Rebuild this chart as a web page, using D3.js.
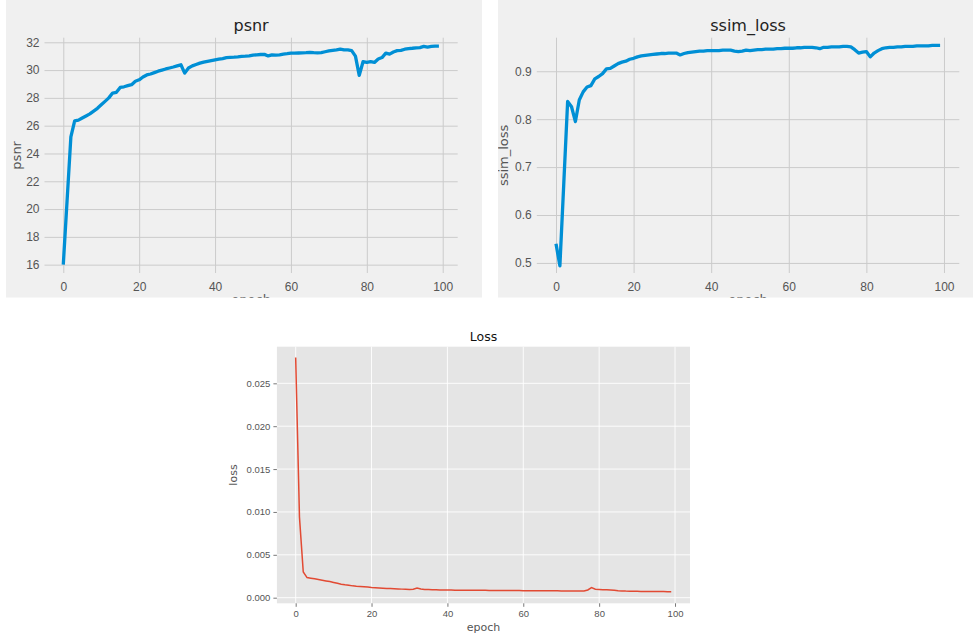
<!DOCTYPE html>
<html>
<head>
<meta charset="utf-8">
<script src="https://cdn.jsdelivr.net/npm/d3@7"></script>
<style>
  body { margin: 0; background: #fff; }
  svg { display: block; font-family: "DejaVu Sans", sans-serif; }
</style>
</head>
<body>
<svg id="chart" width="973" height="642"></svg>
<script>
// epochs 0..99
const epochs = d3.range(0, 100);

const psnr = [
  16.0, 20.6, 25.2, 26.35, 26.4, 26.55, 26.7, 26.85, 27.05, 27.25,
  27.5, 27.75, 28.0, 28.35, 28.4, 28.75, 28.8, 28.88, 28.95, 29.2,
  29.3, 29.5, 29.65, 29.72, 29.82, 29.92, 30.0, 30.08, 30.15, 30.22,
  30.3, 30.38, 29.78, 30.15, 30.3, 30.4, 30.5, 30.57, 30.63, 30.68,
  30.73, 30.78, 30.83, 30.9, 30.92, 30.93, 30.95, 30.98, 31.0, 31.03,
  31.08, 31.1, 31.12, 31.13, 31.02, 31.1, 31.08, 31.1, 31.15, 31.18,
  31.22, 31.22, 31.23, 31.24, 31.25, 31.27, 31.25, 31.24, 31.26, 31.32,
  31.38, 31.42, 31.45, 31.5, 31.45, 31.45, 31.4, 31.0, 29.62, 30.6,
  30.55, 30.6, 30.55, 30.8, 30.9, 31.22, 31.15, 31.3, 31.4, 31.42,
  31.5, 31.55, 31.57, 31.6, 31.62, 31.7, 31.65, 31.7, 31.72, 31.72
];

const ssim = [
  0.540, 0.494, 0.665, 0.837, 0.826, 0.795, 0.840, 0.857, 0.867, 0.870,
  0.884, 0.889, 0.895, 0.905, 0.906, 0.911, 0.916, 0.919, 0.921, 0.925,
  0.927, 0.930, 0.932, 0.933, 0.934, 0.935, 0.936, 0.937, 0.937, 0.938,
  0.938, 0.938, 0.934, 0.937, 0.939, 0.940, 0.941, 0.942, 0.942, 0.943,
  0.943, 0.943, 0.943, 0.944, 0.944, 0.944, 0.942, 0.941, 0.942, 0.944,
  0.943, 0.944, 0.945, 0.945, 0.946, 0.946, 0.946, 0.947, 0.947, 0.948,
  0.948, 0.948, 0.949, 0.949, 0.950, 0.950, 0.950, 0.949, 0.947, 0.950,
  0.950, 0.951, 0.951, 0.951, 0.952, 0.952, 0.951, 0.945, 0.938, 0.940,
  0.941, 0.930, 0.938, 0.943, 0.947, 0.949, 0.950, 0.950, 0.951, 0.951,
  0.952, 0.952, 0.952, 0.953, 0.953, 0.953, 0.953, 0.954, 0.954, 0.954
];

const loss = [
  0.0280, 0.0094, 0.0030, 0.00235, 0.00228, 0.00220, 0.00212, 0.00204, 0.00196, 0.00188,
  0.00178, 0.00168, 0.00158, 0.00150, 0.00146, 0.00138, 0.00134, 0.00131, 0.00128, 0.00124,
  0.00120, 0.00117, 0.00114, 0.00111, 0.00108, 0.00106, 0.00104, 0.00102, 0.00100, 0.00099,
  0.00097, 0.00098, 0.00112, 0.00102, 0.00097, 0.00095, 0.00093, 0.00092, 0.00091, 0.00090,
  0.00089, 0.00089, 0.00088, 0.00088, 0.00087, 0.00087, 0.00087, 0.00086, 0.00086, 0.00086,
  0.00086, 0.00085, 0.00085, 0.00085, 0.00085, 0.00084, 0.00084, 0.00084, 0.00083, 0.00083,
  0.00082, 0.00082, 0.00082, 0.00081, 0.00081, 0.00081, 0.00080, 0.00080, 0.00080, 0.00080,
  0.00079, 0.00079, 0.00079, 0.00079, 0.00078, 0.00078, 0.00078, 0.00090, 0.00117, 0.00098,
  0.00096, 0.00094, 0.00093, 0.00090, 0.00086, 0.00082, 0.00079, 0.00077, 0.00076, 0.00075,
  0.00074, 0.00073, 0.00073, 0.00072, 0.00072, 0.00071, 0.00071, 0.00071, 0.00070, 0.00070
];

const xTicks = [0, 20, 40, 60, 80, 100];
const psnrTicks = [16, 18, 20, 22, 24, 26, 28, 30, 32];
const ssimTicks = [0.5, 0.6, 0.7, 0.8, 0.9];
const lossTicks = [0, 0.005, 0.010, 0.015, 0.020, 0.025];

const svg = d3.select('#chart');

// fivethirtyeight-style panel (top row)
function drawPanel(opts) {
  const { id, panel, xRange, yRange, yDomain, yTicks, yFmt, values, title, ylabel } = opts;
  const clipId = 'clip-' + id;
  svg.append('clipPath').attr('id', clipId)
    .append('rect')
    .attr('x', panel[0]).attr('y', panel[1])
    .attr('width', panel[2] - panel[0]).attr('height', panel[3] - panel[1]);

  const g = svg.append('g').attr('clip-path', `url(#${clipId})`);
  g.append('rect')
    .attr('x', panel[0]).attr('y', panel[1])
    .attr('width', panel[2] - panel[0]).attr('height', panel[3] - panel[1])
    .attr('fill', '#f0f0f0');

  const x = d3.scaleLinear().domain([-4.95, 103.95]).range(xRange);
  const y = d3.scaleLinear().domain(yDomain).range(yRange);

  // grid
  const xAxis = g.append('g')
    .attr('transform', `translate(0,${yRange[0]})`)
    .call(d3.axisBottom(x).tickValues(xTicks).tickSize(-(yRange[0] - yRange[1])).tickPadding(7));
  const yAxis = g.append('g')
    .attr('transform', `translate(${xRange[0]},0)`)
    .call(d3.axisLeft(y).tickValues(yTicks).tickFormat(yFmt).tickSize(-(xRange[1] - xRange[0])).tickPadding(5));
  [xAxis, yAxis].forEach(a => {
    a.select('.domain').remove();
    a.selectAll('.tick line').attr('stroke', '#cbcbcb').attr('stroke-width', 1);
    a.selectAll('.tick text').attr('fill', '#555').style('font-size', '12px');
  });
  xAxis.selectAll('.tick text').attr('dy', '0.9em');

  const line = d3.line().x((d, i) => x(epochs[i])).y(d => y(d));
  g.append('path')
    .datum(values)
    .attr('fill', 'none')
    .attr('stroke', '#008fd5')
    .attr('stroke-width', 3.3)
    .attr('stroke-linejoin', 'round')
    .attr('d', line);

  const cx = (xRange[0] + xRange[1]) / 2;
  g.append('text')
    .attr('x', cx).attr('y', 31)
    .attr('text-anchor', 'middle')
    .attr('fill', '#222')
    .style('font-size', '16px')
    .text(title);

  g.append('text')
    .attr('x', cx).attr('y', 304)
    .attr('text-anchor', 'middle')
    .attr('fill', '#555')
    .style('font-size', '13px')
    .text('epoch');

  g.append('text')
    .attr('transform', `translate(${opts.ylabelX},${(yRange[0] + yRange[1]) / 2}) rotate(-90)`)
    .attr('text-anchor', 'middle')
    .attr('fill', '#555')
    .style('font-size', '13px')
    .text(ylabel);
}

drawPanel({
  id: 'psnr',
  panel: [6, 0, 482, 297.7],
  xRange: [44.5, 457.7],
  yRange: [273, 37.7],
  yDomain: [15.4, 32.33],
  yTicks: psnrTicks,
  yFmt: d3.format('d'),
  values: psnr,
  title: 'psnr',
  ylabel: 'psnr',
  ylabelX: 21
});

drawPanel({
  id: 'ssim',
  panel: [498, 0, 973, 297.7],
  xRange: [536.8, 959.3],
  yRange: [273, 37.7],
  yDomain: [0.479, 0.970],
  yTicks: ssimTicks,
  yFmt: d3.format('.1f'),
  values: ssim,
  title: 'ssim_loss',
  ylabel: 'ssim_loss',
  ylabelX: 508
});

// ggplot-style Loss chart (bottom)
(function drawLoss() {
  const xRange = [276.9, 690];
  const yRange = [603.3, 346.7];
  const x = d3.scaleLinear().domain([-4.95, 103.95]).range(xRange);
  const y = d3.scaleLinear().domain([-0.000653, 0.02927]).range(yRange);
  const g = svg.append('g');

  g.append('rect')
    .attr('x', xRange[0]).attr('y', yRange[1])
    .attr('width', xRange[1] - xRange[0]).attr('height', yRange[0] - yRange[1])
    .attr('fill', '#e5e5e5');

  g.append('g').selectAll('line').data(xTicks).join('line')
    .attr('x1', d => x(d)).attr('x2', d => x(d))
    .attr('y1', yRange[0]).attr('y2', yRange[1])
    .attr('stroke', '#fff').attr('stroke-width', 0.9);
  g.append('g').selectAll('line').data(lossTicks).join('line')
    .attr('x1', xRange[0]).attr('x2', xRange[1])
    .attr('y1', d => y(d)).attr('y2', d => y(d))
    .attr('stroke', '#fff').attr('stroke-width', 0.9);

  const xAxis = g.append('g')
    .attr('transform', `translate(0,${yRange[0]})`)
    .call(d3.axisBottom(x).tickValues(xTicks).tickSize(3.5).tickPadding(3));
  const yAxis = g.append('g')
    .attr('transform', `translate(${xRange[0]},0)`)
    .call(d3.axisLeft(y).tickValues(lossTicks).tickFormat(d3.format('.3f')).tickSize(3.5).tickPadding(3));
  [xAxis, yAxis].forEach(a => {
    a.select('.domain').remove();
    a.selectAll('.tick line').attr('stroke', '#555').attr('stroke-width', 0.8);
    a.selectAll('.tick text').attr('fill', '#555').style('font-size', '9.5px');
  });

  const line = d3.line().x((d, i) => x(epochs[i])).y(d => y(d));
  g.append('path')
    .datum(loss)
    .attr('fill', 'none')
    .attr('stroke', '#E24A33')
    .attr('stroke-width', 1.5)
    .attr('d', line);

  const cx = (xRange[0] + xRange[1]) / 2;
  g.append('text')
    .attr('x', cx).attr('y', 340.5)
    .attr('text-anchor', 'middle')
    .attr('fill', '#111')
    .style('font-size', '12.5px')
    .text('Loss');
  g.append('text')
    .attr('x', cx).attr('y', 631)
    .attr('text-anchor', 'middle')
    .attr('fill', '#555')
    .style('font-size', '11px')
    .text('epoch');
  g.append('text')
    .attr('transform', `translate(237,${(yRange[0] + yRange[1]) / 2}) rotate(-90)`)
    .attr('text-anchor', 'middle')
    .attr('fill', '#555')
    .style('font-size', '11px')
    .text('loss');
})();
</script>
</body>
</html>
